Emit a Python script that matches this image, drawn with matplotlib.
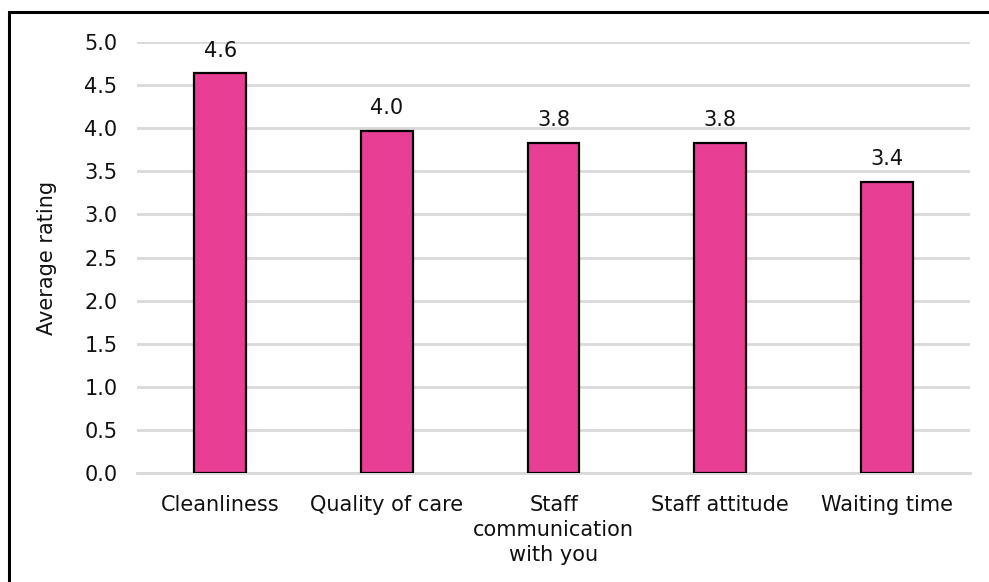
import matplotlib
matplotlib.use("Agg")
import matplotlib.pyplot as plt
from matplotlib.patches import Rectangle
import numpy as np

# data
categories = ["Cleanliness", "Quality of care", "Staff\ncommunication\nwith you",
              "Staff attitude", "Waiting time"]
ratings = [4.64, 3.97, 3.83, 3.83, 3.38]
yticks = [0.0, 0.5, 1.0, 1.5, 2.0, 2.5, 3.0, 3.5, 4.0, 4.5, 5.0]

plt.rcParams["font.family"] = ["DejaVu Sans"]
FS = 15

fig = plt.figure(figsize=(9.89, 5.82), dpi=100)
ax = fig.add_axes([0.1385, 0.1873, 0.981 - 0.1385, 0.9278 - 0.1873])

x = np.arange(len(categories))
ax.bar(x, ratings, width=0.31, color="#E83E94", edgecolor="black",
       linewidth=1.6, zorder=3)

for xi, v in zip(x, ratings):
    ax.annotate(f"{v:.1f}", (xi, v), xytext=(0, 9), textcoords="offset points",
                ha="center", va="bottom", fontsize=FS, color="#111111")

ax.set_xlim(-0.5, len(categories) - 0.5)
ax.set_ylim(0, 5.0)
ax.set_yticks(yticks)
ax.set_yticklabels([f"{t:.1f}" for t in yticks])
ax.set_xticks(x)
ax.set_xticklabels(categories, fontsize=FS, color="#111111", linespacing=1.3)
ax.tick_params(axis="y", length=0, pad=14, labelsize=FS, labelcolor="#111111")
ax.tick_params(axis="x", length=0, pad=16)

ax.grid(axis="y", color="#d9d9d9", linewidth=2, zorder=0)
for s in ["top", "right", "left"]:
    ax.spines[s].set_visible(False)
ax.spines["bottom"].set_color("#d9d9d9")
ax.spines["bottom"].set_linewidth(2)

ax.set_ylabel("Average rating", fontsize=FS, color="#111111", labelpad=20)

# black frame around the chart (cut off at right and bottom)
fig.patches.append(Rectangle((9 / 989, -0.1), 1.2, 1.1 - 12 / 582,
                             transform=fig.transFigure, fill=False,
                             edgecolor="black", linewidth=2.2, zorder=10))

fig.savefig("out.png", dpi=100)
